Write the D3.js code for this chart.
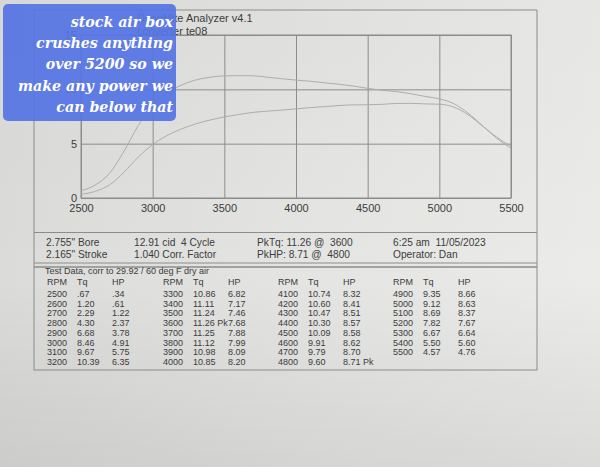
<!DOCTYPE html>
<html><head><meta charset="utf-8">
<script src="https://cdn.jsdelivr.net/npm/d3@7"></script>
<style>body{margin:0;background:#e0e0de}svg{display:block}text{white-space:pre}</style>
</head><body>
<script>
// ---- data ----
const rpm    = [2500,2600,2700,2800,2900,3000,3100,3200,3300,3400,3500,3600,3700,3800,3900,4000,4100,4200,4300,4400,4500,4600,4700,4800,4900,5000,5100,5200,5300,5400,5500];
const torque = [0.67,1.20,2.29,4.30,6.68,8.46,9.67,10.39,10.86,11.11,11.24,11.26,11.25,11.12,10.98,10.85,10.74,10.60,10.47,10.30,10.09,9.91,9.79,9.60,9.35,9.12,8.69,7.82,6.67,5.50,4.57];
const hp     = [0.34,0.61,1.22,2.37,3.78,4.91,5.75,6.35,6.82,7.17,7.46,7.68,7.88,7.99,8.09,8.20,8.32,8.41,8.51,8.57,8.58,8.62,8.70,8.71,8.66,8.63,8.37,7.67,6.64,5.60,4.76];
const xTicks = [2500,3000,3500,4000,4500,5000,5500];
const yTicks = [0,5,10,15];
const title = "DynoMite Analyzer v4.1";
const subtitle = "converter te08";
const infoCols = [
  ["2.755\" Bore", "2.165\" Stroke"],
  ["12.91 cid  4 Cycle", "1.040 Corr. Factor"],
  ["PkTq: 11.26 @  3600", "PkHP: 8.71 @  4800"],
  ["6:25 am  11/05/2023", "Operator: Dan"]
];
const tableTitle = "Test Data, corr to 29.92 / 60 deg F dry air";
const tableHeader = ["RPM","Tq","HP"];
const peakTqRpm = 3600, peakHpRpm = 4800;
const note = ["stock air box","crushes anything","over 5200 so we","make any power we","can below that"];

// ---- drawing ----
const W=600,H=467;
const svg=d3.select("body").append("svg").attr("width",W).attr("height",H);
const defs=svg.append("defs");
const g1=defs.append("linearGradient").attr("id","paper").attr("x1","0").attr("x2","1").attr("y1","0").attr("y2","0");
g1.append("stop").attr("offset","0").attr("stop-color","#dbdbd9");
g1.append("stop").attr("offset","0.5").attr("stop-color","#e4e4e2");
g1.append("stop").attr("offset","1").attr("stop-color","#ebebe9");
const g2=defs.append("linearGradient").attr("id","shade").attr("x1","0").attr("x2","0").attr("y1","0").attr("y2","1");
g2.append("stop").attr("offset","0").attr("stop-color","#000").attr("stop-opacity",0.02);
g2.append("stop").attr("offset","0.6").attr("stop-color","#000").attr("stop-opacity",0);
g2.append("stop").attr("offset","1").attr("stop-color","#000").attr("stop-opacity",0.07);
svg.append("rect").attr("width",W).attr("height",H).attr("fill","url(#paper)");
svg.append("rect").attr("width",W).attr("height",H).attr("fill","url(#shade)");

const lineCol="#8c8c8c", txtCol="#3c3c3c", font="'Liberation Sans', Arial, sans-serif";
const L=34,R=537;
// outer frame
const frame=svg.append("g").attr("fill","none").attr("stroke",lineCol).attr("stroke-width",1);
frame.append("path").attr("d",`M${L},10H${R}V267H${L}Z`);
frame.append("line").attr("x1",L).attr("x2",R).attr("y1",232.5).attr("y2",232.5);
frame.append("line").attr("x1",L).attr("x2",R).attr("y1",263).attr("y2",263);
frame.append("rect").attr("x",L).attr("y",267).attr("width",R-L).attr("height",103);

// plot
const x=d3.scaleLinear().domain([2500,5500]).range([81,511]);
const y=d3.scaleLinear().domain([0,15]).range([198,35]);

const gx=svg.append("g").attr("transform","translate(0,198)")
  .call(d3.axisBottom(x).tickValues(xTicks).tickSize(-(198-35)).tickPadding(6).tickFormat(d3.format("d")));
const gy=svg.append("g").attr("transform","translate(81,0)")
  .call(d3.axisLeft(y).tickValues(yTicks).tickSize(-(511-81)).tickPadding(4));
[gx,gy].forEach(g=>{
  g.selectAll("path.domain").remove();
  g.selectAll("line").attr("stroke",lineCol).attr("stroke-width",1);
  g.selectAll("text").attr("fill",txtCol).style("font-family",font).style("font-size","11px");
});
svg.append("rect").attr("x",81).attr("y",35).attr("width",430).attr("height",163)
  .attr("fill","none").attr("stroke",lineCol);

const curveCol="#adadad";
const line=(arr)=>d3.line().x((d,i)=>x(rpm[i])).y(d=>y(d)).curve(d3.curveMonotoneX)(arr);
svg.append("path").attr("d",line(torque)).attr("fill","none").attr("stroke",curveCol).attr("stroke-width",1);
svg.append("path").attr("d",line(hp)).attr("fill","none").attr("stroke",curveCol).attr("stroke-width",1);

function ptext(g,tx,ty,t,size){
  return g.append("text").attr("x",tx).attr("y",ty).text(t)
    .attr("fill",txtCol).style("font-family",font).style("font-size",size);
}
ptext(svg,137,22,title,"11px");
ptext(svg,137,35,subtitle,"11px");

// info box
const infoX=[46,134,257,393];
infoCols.forEach((col,ci)=>col.forEach((t,ri)=>ptext(svg,infoX[ci],246+ri*12,t,"10.2px")));

// table
const tf="9px";
ptext(svg,45,274,tableTitle,tf);
const fmt=v=>d3.format(".2f")(v).replace(/^0\./,".");
const colX=[47,163,278,393], off=[0,30,65];
for(let c=0;c<4;c++){
  const tg=svg.append("g");
  tableHeader.forEach((h,k)=>ptext(tg,colX[c]+off[k],285,h,tf));
  for(let r=0;r<8;r++){
    const i=c*8+r; if(i>=rpm.length) break;
    const yy=297+r*9.7;
    ptext(tg,colX[c],yy,String(rpm[i]),tf);
    ptext(tg,colX[c]+off[1],yy,fmt(torque[i])+(rpm[i]===peakTqRpm?" Pk":""),tf);
    ptext(tg,colX[c]+off[2],yy,fmt(hp[i])+(rpm[i]===peakHpRpm?" Pk":""),tf);
  }
}

// overlay note
svg.append("rect").attr("x",3).attr("y",4).attr("width",173).attr("height",117).attr("rx",5)
  .attr("fill","#5574e4").attr("fill-opacity",0.93);
const ng=svg.append("g").attr("fill","#fff").attr("text-anchor","end")
  .style("font-family","'DejaVu Serif', serif").style("font-weight","bold").style("font-style","italic");
let fs=15;
ng.style("font-size",fs+"px");
const t0=ng.append("text").text(note[3]);
const w0=t0.node().getComputedTextLength(); t0.remove();
fs=fs*155/w0; ng.style("font-size",fs+"px");
note.forEach((t,i)=>ng.append("text").attr("x",173).attr("y",27+i*21.2).text(t));
</script>
</body></html>
